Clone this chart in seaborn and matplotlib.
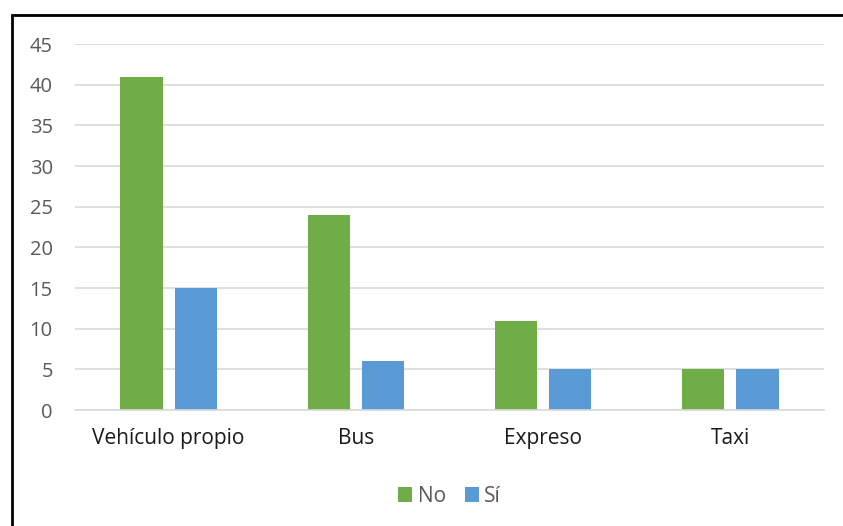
import matplotlib
matplotlib.use("Agg")
import matplotlib.pyplot as plt
import matplotlib.patches as mpatches
import seaborn as sns
import pandas as pd

categorias = ["Vehículo propio", "Bus", "Expreso", "Taxi"]
valores_no = [41, 24, 11, 5]
valores_si = [15, 6, 5, 5]
series = ["No", "Sí"]
colores = ["#70AD47", "#5B9BD5"]

df = pd.DataFrame({
    "categoria": categorias * 2,
    "valor": valores_no + valores_si,
    "serie": [series[0]] * 4 + [series[1]] * 4,
})

sns.set_theme(style="white")
plt.rcParams["font.family"] = ["Open Sans", "DejaVu Sans"]

fig = plt.figure(figsize=(8.43, 5.26), dpi=100)
ax = fig.add_axes([75 / 843, 1 - 410 / 526, (824 - 75) / 843, (410 - 44) / 526])

sns.barplot(data=df, x="categoria", y="valor", hue="serie", palette=colores,
            width=0.58, gap=0.22, saturation=1, linewidth=0, ax=ax, legend=True)

ax.set_ylim(0, 45)
ax.set_yticks(range(0, 46, 5))
ax.set_xlabel("")
ax.set_ylabel("")
ax.yaxis.grid(True, color="#D9D9D9", linewidth=1.2)
ax.set_axisbelow(True)
for s in ["top", "right", "left"]:
    ax.spines[s].set_visible(False)
ax.spines["bottom"].set_color("#D9D9D9")
ax.spines["bottom"].set_linewidth(1.2)
ax.tick_params(axis="both", length=0)
ax.tick_params(axis="y", labelsize=14.5, labelcolor="#595959", pad=16)
ax.tick_params(axis="x", labelsize=15, labelcolor="#1a1a1a", pad=13)

ax.legend(loc="center", bbox_to_anchor=(0.5, -0.235), ncol=2, frameon=False,
          fontsize=15, labelcolor="#595959", handlelength=0.7, handleheight=0.7,
          handletextpad=0.25, columnspacing=0.9)

# marco del grafico (solo visibles los bordes superior e izquierdo)
marco = mpatches.Rectangle((11.5 / 843, -0.1), 1.2, 1 - 14.5 / 526 + 0.1,
                           transform=fig.transFigure, fill=False,
                           edgecolor="black", linewidth=2)
fig.add_artist(marco)

fig.savefig("out.png", dpi=100)
